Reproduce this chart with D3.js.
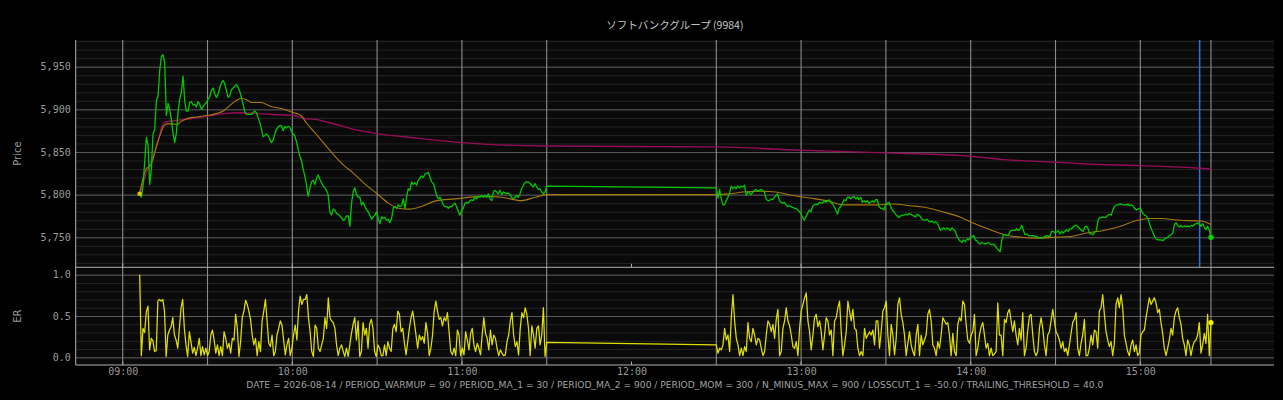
<!DOCTYPE html>
<html>
<head>
<meta charset="utf-8">
<script src="https://cdn.jsdelivr.net/npm/d3@7"></script>
<style>
  html, body { margin: 0; padding: 0; background: #000; }
  svg { display: block; }
</style>
</head>
<body>
<svg width="1283" height="400"></svg>
<script>
(function (d3) {
  'use strict';

  var svg = d3.select('svg');

  // sessions (samples are spread evenly over each span)
  var amSpan = ["09:06", "11:30"];
  var pmSpan = ["12:30", "15:25"];

  // price, morning
  var priceAm = [
    5801,5797,5810,5838,5867,5858,5812,5830,5871,5876,5910,5915,5945,5962,5964,5955,5893,5907,5900,5888,
    5872,5861,5872,5897,5912,5920,5939,5910,5898,5898,5908,5909,5905,5906,5903,5909,5906,5900,5903,5906,
    5908,5912,5915,5922,5925,5918,5914,5918,5925,5931,5934,5930,5922,5914,5916,5923,5925,5927,5929,5926,
    5921,5914,5906,5897,5894,5894,5894,5894,5896,5898,5896,5890,5885,5877,5868,5869,5871,5869,5865,5861,
    5864,5871,5877,5879,5881,5881,5875,5880,5878,5880,5879,5874,5871,5869,5862,5853,5845,5840,5830,5822,
    5811,5798,5807,5815,5817,5812,5819,5823,5818,5814,5810,5808,5805,5800,5780,5776,5783,5782,5778,5777,
    5775,5773,5770,5771,5775,5775,5763,5790,5803,5808,5800,5797,5797,
    5788,5791,5786,5782,5780,5776,5771,5774,5776,5780,5772,5766,5774,5772,5773,5770,5771,5767,5772,5784,
    5786,5784,5788,5786,5787,5795,5784,5797,5807,5805,5815,5812,5814,5811,5817,5819,5822,5820,5824,5825,
    5826,5821,5815,5813,5807,5799,5795,5797,5793,5788,5786,5786,5784,5786,5786,5788,5790,5786,5780,5776,
    5782,5784,5790,5791,5790,5793,5794,5793,5797,5795,5798,5797,5799,5797,5799,5797,5801,5795,5793,5803,
    5805,5803,5801,5805,5800,5803,5802,5801,5802,5800,5797,5795,5797,5799,5797,5801,5807,5811,5814,5815,
    5815,5813,5811,5809,5813,5809,5806,5807,5803,5801,5803,5810
  ];

  // price, afternoon
  var pricePm = [
    5808,5796,5806,5795,5788,5788,5793,5797,5802,5810,
    5807,5809,5807,5810,5808,5810,5809,5811,5799,5803,5802,5800,5803,5805,5806,5804,5805,5806,5805,5803,
    5795,5793,5793,5795,5794,5797,5799,5801,5793,5791,5790,5791,5788,5786,5787,5786,5785,5784,5784,5782,
    5780,5778,5773,5770,5774,5778,5782,5780,5786,5788,5789,5788,5791,5790,5790,5793,5791,5793,5794,5791,
    5789,5786,5782,5777,5784,5786,5790,5794,5793,5797,5797,5795,5797,5798,5795,5797,5794,5797,5791,5793,
    5791,5793,5790,5791,5793,5791,5794,5794,5786,5784,5784,5782,5788,5790,5791,5786,5782,5780,5777,5775,
    5773,5775,5776,5776,5777,5776,5778,5777,5776,5775,5774,5777,5776,5774,5771,5770,5770,5771,5769,5768,
    5769,5767,5768,5767,5763,5758,5760,5761,5759,5761,5760,5758,5761,5759,5757,5751,
    5748,
    5745,5744,5747,5745,5748,5747,5750,5751,5752,5747,5746,5743,5742,5744,5743,5742,5743,5744,5742,5741,
    5742,5740,5737,5735,5733,5747,5753,5753,5752,5753,5757,5758,5758,5758,5760,5758,5760,5764,5758,5753,
    5754,5752,5752,5752,5752,5751,5751,5750,5749,5749,5750,5751,5752,5751,5751,5757,5757,5755,5756,5758,
    5754,5757,5755,5757,5759,5757,5760,5760,5762,5764,5764,5762,5760,5758,5757,5762,5763,5760,5754,5754,
    5753,5756,5758,5770,5773,5773,5774,5773,5774,5776,5777,5776,5783,5786,5788,5788,5789,5789,5788,5788,
    5788,5789,5787,5788,5787,5784,5782,5783,5784,5782,5778,5776,5775,5772,5766,5760,5756,5751,5748,5747,
    5747,5747,5746,5748,5749,5750,5752,5753,5755,5765,5767,5764,5762,5764,5762,5763,5762,5763,5762,5764,
    5763,5765,5766,5767,5765,5763,5766,5762,5759,5763,5758,5750
  ];

  // moving averages
  var maFastTimes = ["09:06","09:08:30","09:09:40","09:11","09:12","09:13:15","09:14:25","09:15:35","09:18","09:19:10",
    "09:20:20","09:22:40","09:26","09:30","09:33","09:36","09:38","09:40:30","09:42","09:44","09:45:40","09:49",
    "09:52","09:57","10:00:30","10:03","10:05","10:08:40","10:13:30","10:18","10:21:40","10:25:30","10:30","10:34",
    "10:37:30","10:41:30","10:45:40","10:51","10:57:30","11:07","11:14","11:21","11:26","11:30","12:30","12:34:40",
    "12:39:30","12:45","12:51","12:57","13:03","13:09","13:15","13:21","13:27","13:32:30","13:38:30","13:44","13:50",
    "13:56","14:00","14:06","14:12","14:18","14:24","14:29:30","14:35:30","14:41","14:47","14:53","14:59","15:03",
    "15:07","15:14","15:21:30","15:25"];
  var maFast = [5802,5831,5833,5845,5858,5870,5880,5883,5883,5882,5885,5889,5891,5893,5895,5899,5905,5911,5913,5911,
    5908,5908,5904,5900,5896,5893,5884,5870,5851,5835,5825,5813,5801,5790,5784,5783,5786,5793,5795,5798,5797,5793,
    5797,5800,5800,5801,5803,5804,5803,5799,5796,5793,5788,5788,5788,5789,5787,5785,5780,5774,5768,5760,5753,5750,
    5749,5750,5751,5755,5758,5763,5770,5772,5772,5770,5769,5765];

  var maSlowTimes = ["09:06","09:08:30","09:11","09:12:40","09:13:50","09:15","09:16:50","09:21:30","09:24","09:30",
    "09:35:40","09:41:40","09:47:30","09:53:20","10:00","10:05","10:08:40","10:13:30","10:18","10:24","10:45","11:00",
    "11:30","12:30","13:00","13:30","13:56","14:00","14:12","14:30","14:41","15:00","15:21","15:25"];
  var maSlow = [5799,5827,5847,5864,5880,5885,5886,5888,5889,5892,5895,5896,5895,5894,5893,5889,5888,5884,5880,5875,
    5866,5861,5857,5856,5852,5849,5846,5845,5841,5838,5836,5834,5831,5830];

  // efficiency ratio
  var erAm = [
    1.0,0.02,0.35,0.30,0.55,0.62,0.09,0.23,0.20,0.07,0.08,
    0.68,0.70,0.68,0.70,0.56,0.01,0.27,0.33,0.37,0.48,0.27,0.21,0.11,0.35,0.60,0.70,0.35,0.15,0.01,0.31,
    0.19,0.05,0.12,0.02,0.11,0.23,0.02,0.13,0.03,0.11,0.02,0.07,0.27,0.33,0.21,0.05,0.15,0.02,0.13,0.02,
    0.31,0.23,0.11,0.17,0.05,0.23,0.21,0.52,0.35,0.01,0.19,0.48,0.56,0.69,0.64,0.56,0.46,0.27,0.15,0.23,
    0.02,0.19,0.07,0.44,0.56,0.70,0.44,0.17,0.13,0.27,0.02,0.07,0.27,0.35,0.44,0.39,0.21,0.03,0.15,0.23,
    0.02,0.11,0.27,0.39,0.21,0.56,0.74,0.64,0.70,0.70,0.76,0.48,0.31,0.07,0.01,0.39,0.35,0.11,0.07,0.15,
    0.23,0.48,0.35,0.72,0.48,0.44,0.42,0.35,0.15,0.02,0.11,0.15,0.07,
    0.01,0.11,0.01,0.15,0.29,0.40,0.48,0.21,0.44,0.01,0.07,0.42,0.27,0.35,0.11,0.40,0.46,0.35,0.07,0.01,
    0.15,0.11,0.02,0.02,0.15,0.02,0.19,0.11,0.07,0.35,0.40,0.31,0.56,0.52,0.31,0.35,0.17,0.03,0.19,0.35,
    0.48,0.56,0.42,0.27,0.11,0.27,0.21,0.25,0.17,0.42,0.29,0.02,0.11,0.27,0.56,0.68,0.56,0.46,0.48,0.38,
    0.48,0.44,0.54,0.31,0.07,0.03,0.11,0.02,0.33,0.27,0.02,0.11,0.03,0.31,0.21,0.09,0.29,0.35,0.15,0.07,
    0.17,0.11,0.03,0.27,0.48,0.29,0.23,0.09,0.33,0.15,0.27,0.23,0.11,0.02,0.09,0.05,0.02,0.03,0.19,0.27,
    0.44,0.54,0.27,0.13,0.19,0.03,0.35,0.54,0.48,0.60,0.52,0.35,0.02,0.38,0.27,0.11,0.35,0.38,0.15,0.27,
    0.60,0.01,0.18
  ];
  var erPm = [
    0.15,0.05,0.11,0.09,0.15,0.35,0.21,0.27,0.07,0.48,0.76,0.44,0.23,0.15,0.02,0.11,0.02,0.13,0.07,0.42,
    0.23,0.19,0.35,0.27,0.15,0.23,0.21,0.11,0.02,0.07,0.27,0.44,0.40,0.31,0.40,0.23,0.46,0.58,0.02,0.07,
    0.35,0.44,0.60,0.44,0.38,0.27,0.13,0.11,0.19,0.02,0.35,0.56,0.64,0.72,0.78,0.44,0.31,0.09,0.27,0.48,
    0.52,0.37,0.44,0.31,0.09,0.27,0.48,0.44,0.27,0.33,0.02,0.44,0.48,0.60,0.68,0.31,0.02,0.15,0.31,0.68,
    0.56,0.44,0.58,0.35,0.33,0.11,0.02,0.07,0.02,0.35,0.23,0.27,0.31,0.27,0.33,0.15,0.44,0.44,0.11,0.31,
    0.56,0.60,0.68,0.27,0.02,0.40,0.27,0.03,0.23,0.64,0.72,0.52,0.42,0.27,0.02,0.17,0.31,0.15,0.07,0.02,
    0.27,0.40,0.02,0.27,0.15,0.21,0.27,0.52,0.58,0.44,0.15,0.11,0.02,0.19,0.11,0.27,0.48,0.44,0.40,0.42,
    0.27,0.02,0.29,0.07,0.02,0.40,0.48,0.44,0.68,
    0.64,0.40,0.21,0.17,0.27,0.31,0.52,0.02,0.11,0.27,0.37,0.42,0.27,0.11,0.17,0.02,0.11,0.02,0.04,0.07,
    0.66,0.27,0.27,0.02,0.46,0.42,0.54,0.58,0.44,0.31,0.44,0.27,0.15,0.35,0.21,0.54,0.02,0.11,0.33,0.50,
    0.52,0.27,0.07,0.02,0.07,0.35,0.48,0.35,0.15,0.02,0.27,0.31,0.44,0.58,0.44,0.31,0.27,0.21,0.11,0.19,
    0.07,0.11,0.02,0.15,0.29,0.42,0.46,0.54,0.11,0.02,0.17,0.27,0.46,0.02,0.02,0.11,0.27,0.15,0.33,0.31,
    0.11,0.56,0.60,0.76,0.52,0.31,0.21,0.13,0.19,0.02,0.17,0.64,0.72,0.60,0.76,0.60,0.27,0.17,0.07,0.02,
    0.15,0.21,0.07,0.15,0.02,0.05,0.27,0.31,0.33,0.48,0.60,0.72,0.64,0.68,0.72,0.66,0.54,0.58,0.42,0.29,
    0.11,0.02,0.11,0.21,0.35,0.27,0.48,0.56,0.60,0.48,0.40,0.23,0.15,0.02,0.21,0.15,0.02,0.13,0.19,0.21,
    0.27,0.42,0.05,0.15,0.29,0.17,0.52,0.02,0.42
  ];

  // vertical markers and ticks
  var sessionLines = ["09:00","09:30","10:00","10:30","11:00","11:30","12:30","13:00","13:30","14:00","14:30","15:00","15:25"];
  var signalLines = ["15:21"];
  var hourTicks = ["09:00","10:00","11:00","12:00","13:00","14:00","15:00"];
  var priceTicks = [5750, 5800, 5850, 5900, 5950];
  var erTicks = [0.0, 0.5, 1.0];

  var title = "ソフトバンクグループ (9984)";
  var footer = "DATE = 2026-08-14 / PERIOD_WARMUP = 90 / PERIOD_MA_1 = 30 / PERIOD_MA_2 = 900 / PERIOD_MOM = 300 / N_MINUS_MAX = 900 / LOSSCUT_1 = -50.0 / TRAILING_THRESHOLD = 40.0";

  // helpers
  var parseHMS = d3.timeParse("%H:%M:%S");
  var parseHM = d3.timeParse("%H:%M");
  var parseT = function (s) { return s.length > 5 ? parseHMS(s) : parseHM(s); };
  var spread = function (span, n) {
    var t0 = +parseT(span[0]), t1 = +parseT(span[1]);
    return d3.range(n).map(function (i) { return new Date(t0 + i * (t1 - t0) / (n - 1)); });
  };
  var zip = function (times, vals) {
    return vals.map(function (v, i) { return { t: times[i], v: v }; });
  };

  // layout
  var left = 75.7, right = 1274;
  var topY0 = 40, topY1 = 267.3, botY0 = 267.3, botY1 = 365;

  var x = d3.scaleTime()
      .domain([parseT("08:43:22"), parseT("15:47:18")])
      .range([left, right]);
  var yPrice = d3.scaleLinear().domain([5714.8, 5981.3]).range([topY1, topY0]);
  var yEr = d3.scaleLinear().domain([-0.093, 1.0896]).range([botY1, botY0]);

  var priceData = zip(spread(amSpan, priceAm.length), priceAm)
      .concat(zip(spread(pmSpan, pricePm.length), pricePm));
  var erData = zip(spread(amSpan, erAm.length), erAm)
      .concat(zip(spread(pmSpan, erPm.length), erPm));
  var fastData = zip(maFastTimes.map(parseT), maFast);
  var slowData = zip(maSlowTimes.map(parseT), maSlow);

  // background of both panels
  svg.append("rect")
      .attr("x", left).attr("y", topY0)
      .attr("width", right - left).attr("height", botY1 - topY0)
      .attr("fill", "#0a0a0a");

  // grids
  var grid = function (scale, values, color) {
    var g = svg.append("g")
        .attr("transform", "translate(" + left + ",0)")
        .call(d3.axisLeft(scale).tickValues(values).tickSize(-(right - left)).tickFormat(""));
    g.select(".domain").remove();
    g.selectAll("line").attr("stroke", color).attr("stroke-width", 1);
  };
  grid(yPrice, d3.range(5720, 5990, 10), "#242424");
  grid(yPrice, priceTicks, "#585858");
  grid(yEr, d3.range(0, 1.05, 0.1), "#242424");
  grid(yEr, erTicks, "#585858");

  // session lines
  svg.append("g").selectAll("line")
      .data(sessionLines)
      .enter()
      .append("line")
      .attr("x1", function (d) { return x(parseT(d)); })
      .attr("x2", function (d) { return x(parseT(d)); })
      .attr("y1", topY0)
      .attr("y2", botY1)
      .attr("stroke", "#8c8c8c")
      .attr("stroke-width", 1.1);

  // small inward ticks
  [topY1, botY1].forEach(function (yy) {
    svg.append("g").selectAll("line")
        .data(hourTicks)
        .enter()
        .append("line")
        .attr("x1", function (d) { return x(parseT(d)); })
        .attr("x2", function (d) { return x(parseT(d)); })
        .attr("y1", yy - 3.5)
        .attr("y2", yy)
        .attr("stroke", "#aaaaaa");
  });

  // signal line
  svg.append("g").selectAll("line")
      .data(signalLines)
      .enter()
      .append("line")
      .attr("x1", function (d) { return x(parseT(d)); })
      .attr("x2", function (d) { return x(parseT(d)); })
      .attr("y1", topY0)
      .attr("y2", topY1)
      .attr("stroke", "#2f6fe0")
      .attr("stroke-width", 1.5);

  // lines
  var smooth = d3.line()
      .x(function (d) { return x(d.t); })
      .y(function (d) { return yPrice(d.v); })
      .curve(d3.curveMonotoneX);
  var priceLine = d3.line()
      .x(function (d) { return x(d.t); })
      .y(function (d) { return yPrice(d.v); });
  var erLine = d3.line()
      .x(function (d) { return x(d.t); })
      .y(function (d) { return yEr(d.v); });

  svg.append("path").datum(slowData)
      .attr("d", smooth).attr("fill", "none")
      .attr("stroke", "#960d5a").attr("stroke-width", 1.4);
  svg.append("path").datum(fastData)
      .attr("d", smooth).attr("fill", "none")
      .attr("stroke", "#a87a0e").attr("stroke-width", 1.1);
  svg.append("path").datum(priceData)
      .attr("d", priceLine).attr("fill", "none")
      .attr("stroke", "#00c800").attr("stroke-width", 1.3)
      .attr("stroke-linejoin", "round");
  svg.append("path").datum(erData)
      .attr("d", erLine).attr("fill", "none")
      .attr("stroke", "#e0e000").attr("stroke-width", 1.25)
      .attr("stroke-linejoin", "round");

  // end / start markers
  var firstP = priceData[0], lastP = priceData[priceData.length - 1], lastE = erData[erData.length - 1];
  svg.append("circle").attr("cx", x(firstP.t)).attr("cy", yPrice(firstP.v)).attr("r", 2.3).attr("fill", "#d8c800");
  svg.append("circle").attr("cx", x(lastP.t)).attr("cy", yPrice(lastP.v)).attr("r", 2.6).attr("fill", "#00e000");
  svg.append("circle").attr("cx", x(lastE.t)).attr("cy", yEr(lastE.v)).attr("r", 2.6).attr("fill", "#f0f000");

  // spines
  svg.append("line").attr("x1", left).attr("x2", left).attr("y1", topY0).attr("y2", botY1)
      .attr("stroke", "#b0b0b0");
  svg.append("line").attr("x1", left).attr("x2", right).attr("y1", topY1).attr("y2", topY1)
      .attr("stroke", "#b0b0b0");
  svg.append("line").attr("x1", left).attr("x2", right).attr("y1", botY1).attr("y2", botY1)
      .attr("stroke", "#b0b0b0");

  // axis labels
  var styleTicks = function (g) {
    g.select(".domain").remove();
    g.selectAll("text")
        .attr("fill", "#9a9a9a")
        .style("font-family", "'DejaVu Sans Mono', monospace")
        .style("font-size", "10px");
  };
  svg.append("g")
      .attr("transform", "translate(" + left + ",0)")
      .call(d3.axisLeft(yPrice).tickValues(priceTicks).tickSize(0).tickPadding(5).tickFormat(d3.format(",")))
      .call(styleTicks);
  svg.append("g")
      .attr("transform", "translate(" + left + ",0)")
      .call(d3.axisLeft(yEr).tickValues(erTicks).tickSize(0).tickPadding(5).tickFormat(d3.format(".1f")))
      .call(styleTicks);
  svg.append("g")
      .attr("transform", "translate(0," + botY1 + ")")
      .call(d3.axisBottom(x).tickValues(hourTicks.map(parseT)).tickSize(0).tickPadding(3)
        .tickFormat(d3.timeFormat("%H:%M")))
      .call(styleTicks);

  svg.append("text")
      .attr("transform", "translate(21," + ((topY0 + topY1) / 2) + ") rotate(-90)")
      .attr("text-anchor", "middle")
      .attr("fill", "#9a9a9a")
      .style("font-family", "'DejaVu Sans', sans-serif")
      .style("font-size", "10px")
      .text("Price");
  svg.append("text")
      .attr("transform", "translate(21," + ((botY0 + botY1) / 2) + ") rotate(-90)")
      .attr("text-anchor", "middle")
      .attr("fill", "#9a9a9a")
      .style("font-family", "'DejaVu Sans', sans-serif")
      .style("font-size", "10px")
      .text("ER");

  svg.append("text")
      .attr("x", (left + right) / 2)
      .attr("y", 29)
      .attr("text-anchor", "middle")
      .attr("fill", "#c4c4c4")
      .style("font-family", "'Noto Sans CJK JP', sans-serif")
      .style("font-size", "10.5px")
      .text(title);

  svg.append("text")
      .attr("x", (left + right) / 2)
      .attr("y", 388)
      .attr("text-anchor", "middle")
      .attr("fill", "#a0a0a0")
      .style("font-family", "'DejaVu Sans', sans-serif")
      .style("font-size", "9.15px")
      .text(footer);

}(d3));
</script>
</body>
</html>
